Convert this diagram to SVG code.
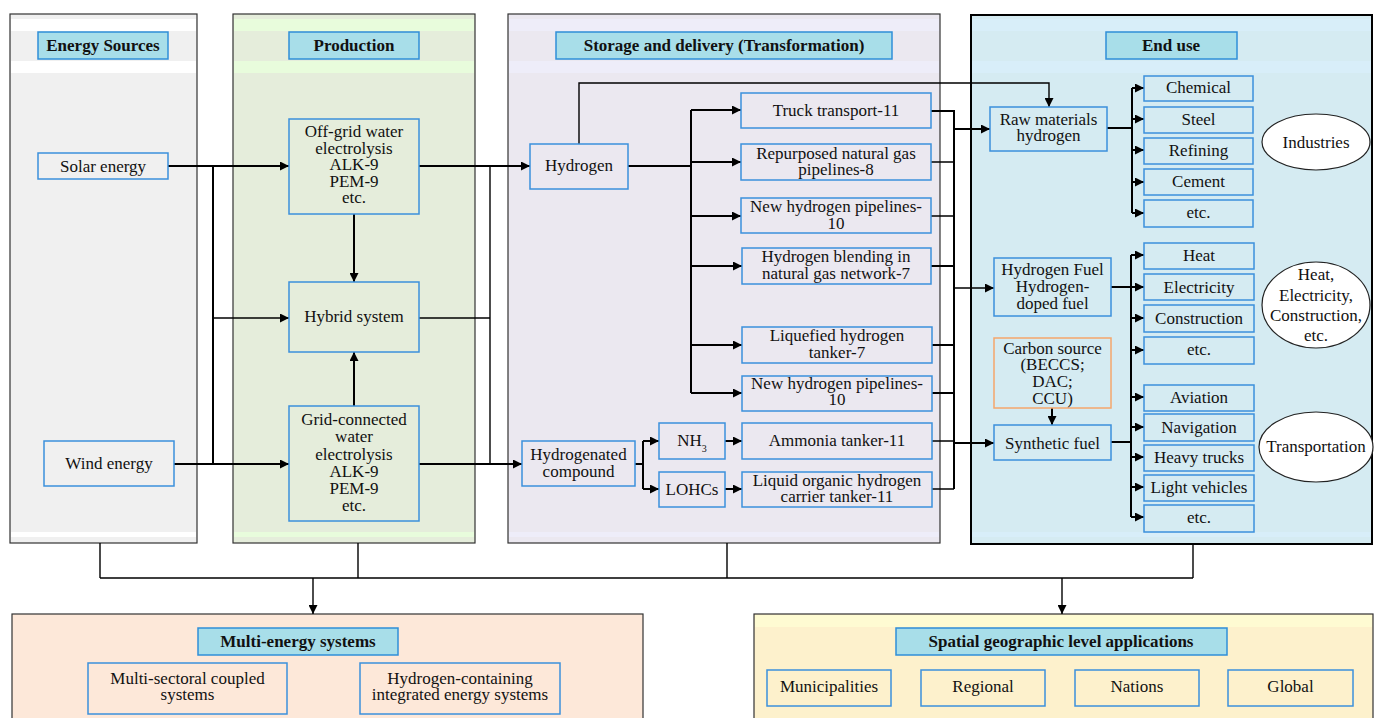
<svg xmlns="http://www.w3.org/2000/svg" width="1378" height="718" viewBox="0 0 1378 718">
<defs>
<marker id="ah" viewBox="0 0 10 10" refX="10" refY="5" markerWidth="11" markerHeight="9" markerUnits="userSpaceOnUse" orient="auto"><path d="M0,0 L10,5 L0,10 z" fill="#000"/></marker>
<style>
text{font-family:"Liberation Serif","Times New Roman",serif;font-size:17px;fill:#111;text-anchor:middle}
.t{font-weight:bold}
.hd{fill:#a8dee9;stroke:#2f8fd8;stroke-width:1.5}
.nd{fill:none;stroke:#3b90dc;stroke-width:1.5}
.pn{stroke:#333;stroke-width:1.2}
.c{fill:none;stroke:#000;stroke-width:2}
.c1{fill:none;stroke:#000;stroke-width:1.4}
.a{marker-end:url(#ah)}
.el{fill:#fff;stroke:#222;stroke-width:1.2}
</style>
</defs>
<g id="panel-sources">
<rect class="pn" x="10" y="14" width="187" height="529" fill="#f0f0f0"/>
<rect x="11" y="19" width="185" height="12" fill="#fff"/>
<rect x="11" y="61" width="185" height="12" fill="#fff"/>
<rect x="11" y="532" width="185" height="5" fill="#fff"/>
<rect class="hd" x="38" y="32" width="130" height="27"/>
<text class="t" x="103" y="51">Energy Sources</text>
</g>
<g id="panel-production">
<rect class="pn" x="233" y="14" width="242" height="529" fill="#e5eddb"/>
<rect x="234" y="19" width="240" height="12" fill="#e8fcdc"/>
<rect x="234" y="61" width="240" height="12" fill="#e8fcdc"/>
<rect x="234" y="532" width="240" height="5" fill="#e8fcdc"/>
<rect class="hd" x="289" y="32" width="130" height="27"/>
<text class="t" x="354" y="51">Production</text>
</g>
<g id="panel-storage">
<rect class="pn" x="508" y="14" width="432" height="529" fill="#ebe8f0"/>
<rect x="509" y="19" width="430" height="12" fill="#eeedf9"/>
<rect x="509" y="61" width="430" height="12" fill="#eeedf9"/>
<rect x="509" y="532" width="430" height="5" fill="#eeedf9"/>
<rect class="hd" x="556" y="32" width="336" height="27"/>
<text class="t" x="724" y="51">Storage and delivery (Transformation)</text>
</g>
<g id="panel-enduse">
<rect x="971" y="15" width="401" height="529" fill="#d5ebf2" stroke="#000" stroke-width="2"/>
<rect x="972" y="19" width="399" height="12" fill="#d8eef9"/>
<rect x="972" y="61" width="399" height="12" fill="#d8eef9"/>
<rect x="972" y="532" width="399" height="5" fill="#d8eef9"/>
<rect class="hd" x="1106" y="32" width="131" height="27"/>
<text class="t" x="1171" y="51">End use</text>
</g>
<g id="panel-multi">
<rect class="pn" x="12" y="614" width="631" height="110" fill="#fde8d9"/>
<rect class="hd" x="198" y="628" width="200" height="27"/>
<text class="t" x="298" y="647">Multi-energy systems</text>
</g>
<g id="panel-spatial">
<rect class="pn" x="754" y="614" width="619" height="110" fill="#fdf1cc"/>
<rect x="755" y="615" width="617" height="12" fill="#fefbd2"/>
<rect class="hd" x="896" y="628" width="331" height="27"/>
<text class="t" x="1061" y="647">Spatial geographic level applications</text>
</g>

<g id="connectors">
<path class="c a" d="M168,166 H289"/>
<path class="c" d="M213,166 V464"/>
<path class="c1 a" d="M213,318 H289"/>
<path class="c a" d="M174,464 H289"/>
<path class="c a" d="M354,214 V282"/>
<path class="c a" d="M354,406 V352"/>
<path class="c a" d="M419,166 H530"/>
<path class="c1" d="M490,166 V464"/>
<path class="c1" d="M419,318 H490"/>
<path class="c a" d="M419,464 H522"/>
<path class="c1 a" d="M579,144 V83 H1049 V107"/>
<path class="c" d="M628,166 H691 M691,110 V393"/>
<path class="c a" d="M691,110 H741"/>
<path class="c a" d="M691,162 H741"/>
<path class="c a" d="M691,216 H741"/>
<path class="c a" d="M691,266 H742"/>
<path class="c a" d="M691,345 H742"/>
<path class="c a" d="M691,393 H742"/>
<path class="c" d="M635,464 H643 M643,441 V489"/>
<path class="c a" d="M643,441 H659"/>
<path class="c a" d="M643,489 H659"/>
<path class="c a" d="M725,441 H742"/>
<path class="c a" d="M725,489 H742"/>
<path class="c" d="M931,111 H954 V489"/>
<path class="c1" d="M931,162 H954 M931,216 H954 M932,441 H954 M932,489 H954"/>
<path class="c" d="M931,266 H954 M932,345 H954 M932,393 H954"/>
<path class="c a" d="M954,129 H990"/>
<path class="c1 a" d="M954,288 H994"/>
<path class="c a" d="M954,443 H994"/>
<path class="c" d="M1107,128 H1132 M1132,88 V213"/>
<path class="c a" d="M1132,88 H1144"/>
<path class="c a" d="M1132,119 H1144"/>
<path class="c a" d="M1132,150 H1144"/>
<path class="c a" d="M1132,182 H1144"/>
<path class="c a" d="M1132,213 H1144"/>
<path class="c" d="M1111,287 H1131 M1111,442 H1131 M1131,255 V517"/>
<path class="c a" d="M1131,255 H1144"/>
<path class="c a" d="M1131,287 H1144"/>
<path class="c a" d="M1131,318 H1144"/>
<path class="c a" d="M1131,350 H1144"/>
<path class="c a" d="M1131,397 H1144"/>
<path class="c a" d="M1131,427 H1144"/>
<path class="c a" d="M1131,457 H1144"/>
<path class="c a" d="M1131,487 H1144"/>
<path class="c a" d="M1131,517 H1144"/>
<path class="c a" d="M1052,408 V425"/>
<path class="c1" d="M100,543 V578 M358,543 V578 M727,543 V578 M1193,545 V578 M100,578 H1193"/>
<path class="c1 a" d="M313,578 V614"/>
<path class="c1 a" d="M1062,578 V614"/>
</g>

<g id="n-solar"><rect class="nd" x="38" y="153" width="130" height="26"/><text x="103" y="171.5">Solar energy</text></g>
<g id="n-wind"><rect class="nd" x="44" y="441" width="130" height="45"/><text x="109" y="469">Wind energy</text></g>
<g id="n-offgrid"><rect class="nd" x="289" y="119" width="130" height="95"/>
<text x="354" y="137">Off-grid water</text><text x="354" y="153.5">electrolysis</text><text x="354" y="170">ALK-9</text><text x="354" y="187">PEM-9</text><text x="354" y="203">etc.</text></g>
<g id="n-hybrid"><rect class="nd" x="289" y="282" width="130" height="70"/><text x="354" y="322">Hybrid system</text></g>
<g id="n-grid"><rect class="nd" x="289" y="406" width="130" height="115"/>
<text x="354" y="425">Grid-connected</text><text x="354" y="442">water</text><text x="354" y="459.5">electrolysis</text><text x="354" y="477">ALK-9</text><text x="354" y="494">PEM-9</text><text x="354" y="511">etc.</text></g>

<g id="n-hydrogen"><rect class="nd" x="530" y="144" width="98" height="45"/><text x="579" y="171">Hydrogen</text></g>
<g id="n-truck"><rect class="nd" x="741" y="93" width="190" height="35"/><text x="836" y="115.5">Truck transport-11</text></g>
<g id="n-repurposed"><rect class="nd" x="741" y="144" width="190" height="36"/><text x="836" y="158.5">Repurposed natural gas</text><text x="836" y="174.5">pipelines-8</text></g>
<g id="n-newpipe1"><rect class="nd" x="741" y="198" width="190" height="35"/><text x="836" y="212">New hydrogen pipelines-</text><text x="836" y="228.5">10</text></g>
<g id="n-blending"><rect class="nd" x="742" y="248" width="189" height="36"/><text x="836" y="262">Hydrogen blending in</text><text x="836" y="278.5">natural gas network-7</text></g>
<g id="n-liquefied"><rect class="nd" x="742" y="327" width="190" height="36"/><text x="837" y="341">Liquefied hydrogen</text><text x="837" y="357.5">tanker-7</text></g>
<g id="n-newpipe2"><rect class="nd" x="742" y="376" width="190" height="35"/><text x="837" y="388.5">New hydrogen pipelines-</text><text x="837" y="405">10</text></g>
<g id="n-hcompound"><rect class="nd" x="522" y="441" width="113" height="45"/><text x="578.5" y="460">Hydrogenated</text><text x="578.5" y="476.5">compound</text></g>
<g id="n-nh3"><rect class="nd" x="659" y="423" width="66" height="36"/><text x="692" y="446">NH<tspan font-size="10" baseline-shift="sub">3</tspan></text></g>
<g id="n-lohcs"><rect class="nd" x="659" y="472" width="66" height="35"/><text x="692" y="495">LOHCs</text></g>
<g id="n-ammonia"><rect class="nd" x="742" y="423" width="190" height="36"/><text x="837" y="446">Ammonia tanker-11</text></g>
<g id="n-lohc-tanker"><rect class="nd" x="742" y="472" width="190" height="35"/><text x="837" y="486">Liquid organic hydrogen</text><text x="837" y="502">carrier tanker-11</text></g>

<g id="n-raw"><rect class="nd" x="990" y="107" width="117" height="44"/><text x="1048.5" y="124.5">Raw materials</text><text x="1048.5" y="141">hydrogen</text></g>
<g id="n-chemical"><rect class="nd" x="1144" y="76" width="109" height="25"/><text x="1198.5" y="93">Chemical</text></g>
<g id="n-steel"><rect class="nd" x="1144" y="107" width="109" height="26"/><text x="1198.5" y="124.5">Steel</text></g>
<g id="n-refining"><rect class="nd" x="1144" y="138" width="109" height="26"/><text x="1198.5" y="155.5">Refining</text></g>
<g id="n-cement"><rect class="nd" x="1144" y="169" width="109" height="26"/><text x="1198.5" y="187">Cement</text></g>
<g id="n-etc1"><rect class="nd" x="1144" y="200" width="109" height="27"/><text x="1198.5" y="217.5">etc.</text></g>
<g id="n-industries"><ellipse class="el" cx="1316" cy="142" rx="54" ry="28"/><text x="1316" y="147.5">Industries</text></g>

<g id="n-fuel"><rect class="nd" x="994" y="258" width="117" height="58"/><text x="1052.5" y="275">Hydrogen Fuel</text><text x="1052.5" y="292">Hydrogen-</text><text x="1052.5" y="309">doped fuel</text></g>
<g id="n-carbon"><rect x="994" y="338" width="117" height="70" fill="none" stroke="#f5a76c" stroke-width="1.5"/><text x="1052.5" y="353.5">Carbon source</text><text x="1052.5" y="370">(BECCS;</text><text x="1052.5" y="387">DAC;</text><text x="1052.5" y="403.5">CCU)</text></g>
<g id="n-synthetic"><rect class="nd" x="994" y="425" width="117" height="35"/><text x="1052.5" y="448.5">Synthetic fuel</text></g>
<g id="n-heat"><rect class="nd" x="1144" y="243" width="110" height="26"/><text x="1199" y="261">Heat</text></g>
<g id="n-electricity"><rect class="nd" x="1144" y="274" width="110" height="26"/><text x="1199" y="292.5">Electricity</text></g>
<g id="n-construction"><rect class="nd" x="1144" y="305" width="110" height="27"/><text x="1199" y="323.5">Construction</text></g>
<g id="n-etc2"><rect class="nd" x="1144" y="337" width="110" height="27"/><text x="1199" y="354.5">etc.</text></g>
<g id="n-aviation"><rect class="nd" x="1144" y="385" width="110" height="26"/><text x="1199" y="402.5">Aviation</text></g>
<g id="n-navigation"><rect class="nd" x="1144" y="414" width="110" height="27"/><text x="1199" y="432.5">Navigation</text></g>
<g id="n-heavy"><rect class="nd" x="1144" y="445" width="110" height="26"/><text x="1199" y="462.5">Heavy trucks</text></g>
<g id="n-light"><rect class="nd" x="1144" y="475" width="110" height="26"/><text x="1199" y="492.5">Light vehicles</text></g>
<g id="n-etc3"><rect class="nd" x="1144" y="505" width="110" height="27"/><text x="1199" y="522.5">etc.</text></g>
<g id="n-heat-ellipse"><ellipse class="el" cx="1316" cy="305" rx="54" ry="43"/><text x="1316" y="279.5">Heat,</text><text x="1316" y="300.5">Electricity,</text><text x="1316" y="320.5">Construction,</text><text x="1316" y="341">etc.</text></g>
<g id="n-transport"><ellipse class="el" cx="1316" cy="447" rx="57" ry="35"/><text x="1316" y="452">Transportation</text></g>

<g id="n-multisectoral"><rect class="nd" x="88" y="663" width="199" height="51"/><text x="187.5" y="684">Multi-sectoral coupled</text><text x="187.5" y="700">systems</text></g>
<g id="n-hies"><rect class="nd" x="360" y="663" width="200" height="51"/><text x="460" y="684">Hydrogen-containing</text><text x="460" y="700">integrated energy systems</text></g>
<g id="n-municipalities"><rect class="nd" x="767" y="670" width="124" height="36"/><text x="829" y="692">Municipalities</text></g>
<g id="n-regional"><rect class="nd" x="921" y="670" width="124" height="36"/><text x="983" y="692">Regional</text></g>
<g id="n-nations"><rect class="nd" x="1075" y="670" width="124" height="36"/><text x="1137" y="692">Nations</text></g>
<g id="n-global"><rect class="nd" x="1228" y="670" width="125" height="36"/><text x="1290.5" y="692">Global</text></g>
</svg>
